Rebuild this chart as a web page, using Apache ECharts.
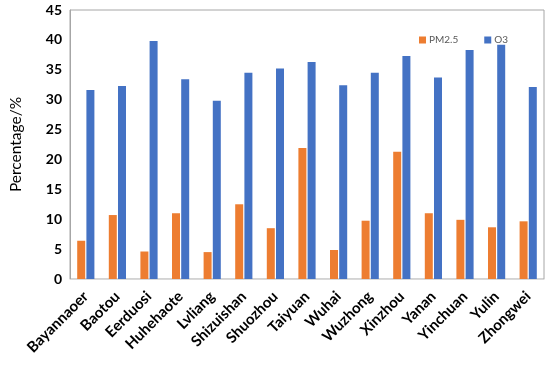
<!DOCTYPE html>
<html>
<head>
<meta charset="utf-8">
<script src="https://cdn.jsdelivr.net/npm/echarts@6/dist/echarts.min.js"></script>
<style>html,body{margin:0;padding:0;background:#fff}#c{width:550px;height:367px}</style>
</head>
<body>
<div id="c"></div>
<script>
const categories = ['Bayannaoer','Baotou','Eerduosi','Huhehaote','Lvliang','Shizuishan','Shuozhou','Taiyuan','Wuhai','Wuzhong','Xinzhou','Yanan','Yinchuan','Yulin','Zhongwei'];
const pm25 = [6.4, 10.7, 4.6, 11.0, 4.5, 12.5, 8.5, 21.9, 4.85, 9.75, 21.3, 11.0, 9.9, 8.65, 9.65];
const o3 = [31.6, 32.3, 39.8, 33.4, 29.8, 34.5, 35.2, 36.3, 32.4, 34.5, 37.3, 33.7, 38.3, 39.2, 32.1];
const yTicks = {min: 0, max: 45, interval: 5};

const chart = echarts.init(document.getElementById('c'), null, {renderer: 'canvas'});
chart.setOption({
  animation: false,
  textStyle: {fontFamily: 'Lato'},
  grid: {left: 51, right: 6, top: 10, bottom: 88, show: true, borderColor: '#a6a6a6', borderWidth: 1, containLabel: false},
  legend: {
    data: ['PM2.5', 'O3'],
    left: 414, top: 30,
    itemWidth: 7, itemHeight: 7, itemGap: 26,
    icon: 'rect',
    textStyle: {fontSize: 10, color: '#595959', fontFamily: 'Lato', padding: [0, 0, 0, -2]}
  },
  xAxis: {
    type: 'category',
    data: categories,
    axisLine: {lineStyle: {color: '#d9d9d9'}},
    axisTick: {show: false},
    axisLabel: {rotate: 45, interval: 0, fontSize: 15, fontWeight: 'bold', color: '#000', margin: 15, fontFamily: 'Lato'}
  },
  yAxis: {
    type: 'value',
    min: yTicks.min, max: yTicks.max, interval: yTicks.interval,
    name: 'Percentage/%',
    nameLocation: 'middle',
    nameGap: 28,
    nameTextStyle: {fontSize: 15.5, color: '#000', fontFamily: 'Lato', padding: [0, 0, 18, 0]},
    axisLine: {show: true, lineStyle: {color: '#a6a6a6'}},
    axisTick: {show: false},
    splitLine: {show: false},
    axisLabel: {fontSize: 14, fontWeight: 'bold', color: '#000', margin: 8, fontFamily: 'Lato'}
  },
  series: [
    {name: 'PM2.5', type: 'bar', data: pm25, barWidth: 8, barGap: '15%', itemStyle: {color: '#ED7D31'}},
    {name: 'O3', type: 'bar', data: o3, barWidth: 8, barGap: '15%', itemStyle: {color: '#4472C4'}}
  ]
});
</script>
</body>
</html>
